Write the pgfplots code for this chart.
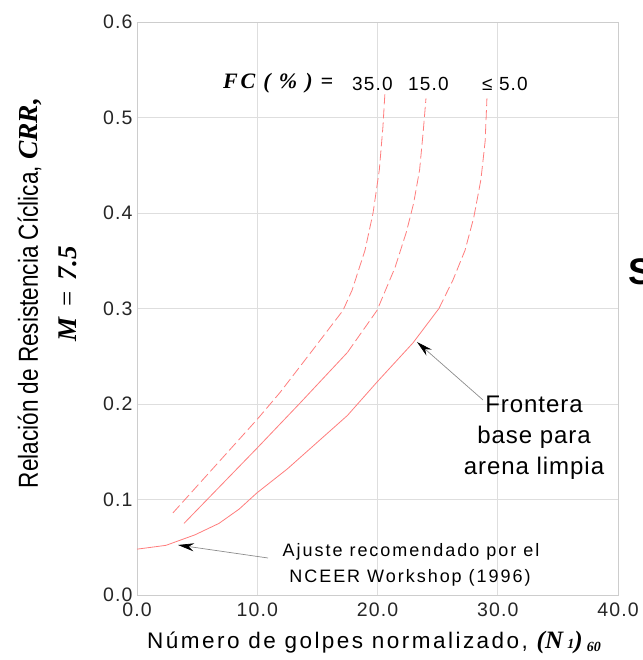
\documentclass[border=0pt]{standalone}
\usepackage{fontspec}
\setmainfont{Liberation Sans}
\usepackage{pgfplots}
\pgfplotsset{compat=1.18}
\usetikzlibrary{arrows.meta}

\newfontfamily\tickfont[LetterSpace=6]{Liberation Sans}
\newfontfamily\spacedfont[LetterSpace=11]{Liberation Sans}
\newfontfamily\fronfont[LetterSpace=4]{Liberation Sans}
\newfontfamily\narrowfont[FakeStretch=0.82]{Liberation Sans}
\newfontfamily\tnr{Liberation Serif}
\newfontfamily\fcfont[LetterSpace=12]{Liberation Serif}

\definecolor{curve}{RGB}{255,125,125}
\definecolor{gridc}{RGB}{222,222,222}
\definecolor{framec}{RGB}{205,205,205}

\begin{document}
\begin{tikzpicture}
\useasboundingbox (-137pt,-65pt) rectangle (505pt,595pt);
\begin{axis}[
  at={(0pt,0pt)}, anchor=south west,
  scale only axis, width=481pt, height=573pt,
  xmin=0, xmax=40, ymin=0, ymax=0.6,
  xtick={0,10,20,30,40},
  ytick={0,0.1,0.2,0.3,0.4,0.5,0.6},
  grid=major,
  grid style={gridc, line width=0.8pt},
  axis line style={framec, line width=0.8pt},
  major tick length=0pt,
  /pgf/number format/assume math mode=true,
  xticklabel={\pgfmathprintnumber[fixed,fixed zerofill,precision=1]{\tick}},
  yticklabel={\pgfmathprintnumber[fixed,fixed zerofill,precision=1]{\tick}},
  ticklabel style={font=\fontsize{19.5}{19.5}\selectfont\tickfont, text=black!85},
  xticklabel style={yshift=-4pt},
  yticklabel style={xshift=-1pt},
  clip=false,
]
% clean sand boundary (<= 5 %)
\addplot[curve, line width=0.8pt] coordinates {
  (0,0.048) (2.41,0.052) (4.82,0.063) (6.82,0.075) (8.5,0.090) (9.98,0.107)
  (12.5,0.132) (15,0.160) (17.5,0.188) (19.96,0.223) (22.95,0.264) (25.11,0.300)
};
\addplot[curve, line width=0.8pt, dash pattern=on 10pt off 4pt] coordinates {
  (25.11,0.300) (26.28,0.330) (27.28,0.361) (28.0,0.395) (28.6,0.435)
  (28.95,0.475) (29.1,0.520)
};
% FC = 15 %
\addplot[curve, line width=0.8pt] coordinates {
  (3.91,0.075) (10,0.154) (13.56,0.201) (17.5,0.254)
};
\addplot[curve, line width=0.8pt, dash pattern=on 10pt off 4pt] coordinates {
  (17.5,0.254) (19.96,0.298) (21.46,0.343) (22.4,0.380) (23.0,0.410)
  (23.5,0.445) (23.8,0.485) (24.03,0.520)
};
% FC = 35 %
\addplot[curve, line width=0.8pt, dash pattern=on 10pt off 4pt] coordinates {
  (2.99,0.086) (10,0.184) (11.89,0.212) (14.64,0.257) (17.13,0.298)
  (17.88,0.319) (18.96,0.361) (19.63,0.400) (20.15,0.445) (20.45,0.490)
  (20.62,0.526)
};
\end{axis}

% labels and notes, placed in picture pixels
\begin{scope}[x=1pt, y=-1pt, shift={(-137pt,595pt)}]
  \node[anchor=base west, inner sep=0] at (223,89)
    {\fontsize{22}{22}\selectfont\fcfont\bfseries\itshape FC ( \% ) =};
  \node[anchor=base west, inner sep=0] at (352,91)
    {\fontsize{19}{19}\selectfont\tickfont 35.0};
  \node[anchor=base west, inner sep=0] at (408,91)
    {\fontsize{19}{19}\selectfont\tickfont 15.0};
  \node[anchor=base west, inner sep=0] at (482,91)
    {\fontsize{19}{19}\selectfont\tickfont ≤ 5.0};

  \node[anchor=base, inner sep=0] at (534,413) {\fontsize{24}{24}\selectfont\fronfont Frontera};
  \node[anchor=base, inner sep=0] at (534,444) {\fontsize{24}{24}\selectfont\fronfont base para};
  \node[anchor=base, inner sep=0] at (534,475) {\fontsize{24}{24}\selectfont\fronfont arena limpia};

  \node[anchor=base, inner sep=0] at (411,557)
    {\fontsize{18}{18}\selectfont\spacedfont Ajuste recomendado por el};
  \node[anchor=base, inner sep=0] at (410,583)
    {\fontsize{18}{18}\selectfont\spacedfont NCEER Workshop (1996)};

  \draw[black!45, line width=0.7pt, -{Stealth[color=black, length=16pt, width=8pt]}]
    (483,400) -- (417,342);
  \draw[black!45, line width=0.7pt, -{Stealth[color=black, length=16pt, width=8pt]}]
    (268,558) -- (178,545);

  \node[anchor=base west, inner sep=0] at (628,285)
    {\fontsize{37}{37}\selectfont\bfseries S};

  \node[rotate=90, inner sep=0] at (30,293)
    {\fontsize{27.5}{27.5}\selectfont\narrowfont Relación de Resistencia Cíclica, {\tnr\bfseries\itshape CRR,}};
  \node[rotate=90, inner sep=0] at (68,294)
    {\fontsize{27}{27}\selectfont\tnr\bfseries\itshape M \,{\mdseries\upshape =}\, 7.5};

  \node[anchor=base, inner sep=0] at (374,648)
    {\fontsize{22.5}{22.5}\selectfont\spacedfont Número de golpes normalizado,
     {\tnr\bfseries\itshape\fontsize{25}{25}\selectfont (N\,{\fontsize{14}{14}\selectfont 1})\,\raisebox{-3pt}{\fontsize{14}{14}\selectfont 60}}};
\end{scope}
\end{tikzpicture}
\end{document}
